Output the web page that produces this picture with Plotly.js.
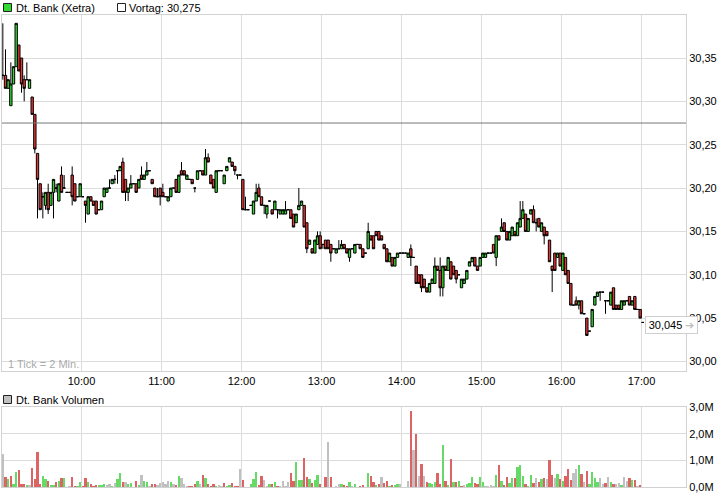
<!DOCTYPE html>
<html><head><meta charset="utf-8">
<script src="https://cdn.plot.ly/plotly-3.0.1.min.js"></script>
<style>html,body{margin:0;padding:0;background:#fff}#chart{width:726px;height:496px}</style>
</head><body><div id="chart"></div>
<script>
// ---- data (2-minute candles, Dt. Bank Xetra) ----
const sessionDate = '2013-06-04';
const firstBarMinute = 9 * 60 + 1;   // first bar centre 09:01
const barMinutes = 2;
const instrument = 'Dt. Bank (Xetra)';
const volumeLabel = 'Dt. Bank Volumen';
const tickNote = '1 Tick = 2 Min.';
const previousClose = 30.275;
const lastPrice = 30.045;
const volumeTicks = [0, 1, 2, 3];
const volumeTickText = ['0,0M', '1,0M', '2,0M', '3,0M'];

const open = [
30.330,30.330,30.315,30.295,30.320,30.340,30.365,30.350,30.325,30.325,
30.315,30.305,30.285,30.240,30.205,30.190,30.180,30.195,30.180,30.195,
30.200,30.185,30.215,30.200,30.195,30.195,30.215,30.205,30.190,30.190,
30.190,30.185,30.170,30.190,30.185,30.185,30.175,30.175,30.190,30.195,
30.200,30.205,30.210,30.220,30.220,30.230,30.210,30.195,30.200,30.205,
30.205,30.200,30.215,30.210,30.215,30.220,30.210,30.200,30.190,30.200,
30.195,30.190,30.185,30.190,30.200,30.210,30.195,30.220,30.220,30.210,
30.210,30.210,30.200,30.210,30.220,30.220,30.215,30.235,30.215,30.210,
30.195,30.220,30.220,30.205,30.220,30.230,30.230,30.225,30.215,30.215,
30.210,30.175,30.175,30.180,30.170,30.185,30.200,30.190,30.180,30.170,
30.185,30.175,30.175,30.175,30.170,30.170,30.170,30.175,30.175,30.170,
30.160,30.175,30.180,30.180,30.160,30.135,30.130,30.125,30.135,30.145,
30.135,30.140,30.140,30.135,30.130,30.125,30.130,30.130,30.135,30.130,
30.120,30.130,30.125,30.135,30.135,30.130,30.125,30.130,30.145,30.145,
30.150,30.150,30.145,30.135,30.130,30.115,30.120,30.110,30.120,30.125,
30.125,30.125,30.120,30.130,30.120,30.110,30.100,30.100,30.095,30.085,
30.080,30.090,30.090,30.110,30.105,30.085,30.110,30.105,30.115,30.110,
30.105,30.100,30.085,30.090,30.095,30.110,30.115,30.120,30.110,30.110,
30.120,30.120,30.125,30.125,30.135,30.120,30.145,30.150,30.160,30.150,
30.140,30.145,30.150,30.145,30.155,30.165,30.170,30.150,30.170,30.175,
30.160,30.165,30.150,30.155,30.150,30.140,30.110,30.125,30.120,30.125,
30.105,30.120,30.105,30.090,30.065,30.070,30.065,30.070,30.055,30.050,
30.035,30.040,30.065,30.075,30.080,30.080,30.070,30.070,30.065,30.085,
30.065,30.065,30.060,30.065,30.070,30.075,30.065,30.075,30.060,30.060,
30.045];
const high = [
30.390,30.360,30.325,30.345,30.340,30.390,30.365,30.350,30.330,30.345,
30.325,30.305,30.285,30.240,30.205,30.195,30.195,30.205,30.195,30.210,
30.205,30.205,30.225,30.215,30.195,30.195,30.225,30.205,30.190,30.205,
30.190,30.185,30.190,30.190,30.185,30.185,30.175,30.185,30.200,30.200,
30.210,30.210,30.215,30.220,30.225,30.235,30.210,30.200,30.215,30.205,
30.205,30.210,30.225,30.215,30.230,30.220,30.210,30.200,30.200,30.200,
30.205,30.190,30.190,30.200,30.200,30.210,30.215,30.230,30.220,30.215,
30.210,30.210,30.200,30.220,30.220,30.220,30.245,30.240,30.215,30.210,
30.220,30.220,30.220,30.215,30.225,30.235,30.230,30.225,30.215,30.215,
30.210,30.190,30.175,30.180,30.185,30.205,30.205,30.190,30.180,30.180,
30.185,30.175,30.185,30.175,30.175,30.175,30.185,30.175,30.175,30.170,
30.170,30.200,30.185,30.180,30.160,30.140,30.130,30.140,30.150,30.150,
30.135,30.140,30.140,30.135,30.130,30.130,30.140,30.140,30.135,30.130,
30.130,30.130,30.135,30.135,30.135,30.130,30.125,30.160,30.145,30.145,
30.150,30.150,30.145,30.135,30.130,30.125,30.120,30.120,30.125,30.125,
30.125,30.125,30.125,30.135,30.120,30.110,30.100,30.100,30.095,30.085,
30.090,30.095,30.120,30.110,30.120,30.110,30.110,30.120,30.115,30.110,
30.105,30.100,30.095,30.095,30.105,30.115,30.120,30.120,30.110,30.120,
30.125,30.125,30.125,30.125,30.135,30.145,30.145,30.165,30.160,30.150,
30.150,30.155,30.150,30.160,30.185,30.185,30.170,30.165,30.175,30.180,
30.165,30.165,30.160,30.155,30.150,30.140,30.110,30.125,30.125,30.125,
30.125,30.120,30.105,30.090,30.065,30.075,30.070,30.070,30.055,30.050,
30.035,30.060,30.075,30.080,30.080,30.080,30.070,30.070,30.080,30.085,
30.065,30.065,30.070,30.070,30.070,30.075,30.070,30.075,30.060,30.060,
30.045];
const low = [
30.325,30.315,30.315,30.295,30.320,30.340,30.335,30.310,30.300,30.325,
30.315,30.285,30.240,30.165,30.175,30.165,30.175,30.170,30.180,30.165,
30.195,30.185,30.195,30.200,30.195,30.195,30.180,30.185,30.190,30.190,
30.190,30.160,30.170,30.185,30.180,30.170,30.175,30.175,30.190,30.195,
30.200,30.205,30.205,30.205,30.220,30.195,30.185,30.185,30.200,30.205,
30.195,30.200,30.210,30.210,30.215,30.220,30.205,30.190,30.190,30.180,
30.190,30.190,30.185,30.190,30.200,30.195,30.195,30.215,30.215,30.210,
30.210,30.205,30.195,30.210,30.220,30.215,30.215,30.230,30.205,30.200,
30.195,30.220,30.220,30.205,30.220,30.230,30.225,30.215,30.210,30.215,
30.175,30.175,30.175,30.180,30.170,30.185,30.190,30.180,30.170,30.165,
30.185,30.170,30.175,30.165,30.170,30.170,30.170,30.175,30.165,30.155,
30.160,30.175,30.180,30.155,30.125,30.135,30.125,30.125,30.135,30.130,
30.130,30.130,30.130,30.115,30.130,30.125,30.130,30.130,30.130,30.125,
30.115,30.130,30.125,30.135,30.130,30.120,30.125,30.130,30.140,30.130,
30.145,30.140,30.140,30.130,30.115,30.115,30.110,30.110,30.120,30.125,
30.125,30.125,30.120,30.110,30.120,30.090,30.090,30.080,30.085,30.080,
30.080,30.090,30.090,30.105,30.075,30.075,30.105,30.105,30.095,30.100,
30.090,30.100,30.085,30.090,30.095,30.110,30.115,30.110,30.105,30.110,
30.120,30.120,30.125,30.125,30.125,30.110,30.140,30.150,30.150,30.140,
30.140,30.145,30.145,30.145,30.155,30.165,30.150,30.150,30.170,30.160,
30.150,30.155,30.150,30.135,30.145,30.115,30.080,30.105,30.120,30.110,
30.105,30.100,30.090,30.065,30.065,30.065,30.060,30.055,30.055,30.030,
30.035,30.040,30.065,30.075,30.070,30.080,30.055,30.070,30.065,30.060,
30.060,30.060,30.060,30.065,30.070,30.065,30.065,30.060,30.060,30.050,
30.045];
const close = [
30.330,30.315,30.325,30.320,30.340,30.390,30.335,30.320,30.315,30.325,
30.325,30.285,30.245,30.210,30.175,30.190,30.195,30.175,30.195,30.210,
30.200,30.205,30.195,30.200,30.195,30.195,30.190,30.185,30.190,30.205,
30.190,30.180,30.190,30.185,30.180,30.170,30.175,30.185,30.200,30.200,
30.200,30.210,30.210,30.220,30.225,30.195,30.195,30.200,30.205,30.205,
30.195,30.210,30.210,30.215,30.220,30.220,30.205,30.190,30.190,30.190,
30.190,30.190,30.190,30.200,30.200,30.195,30.215,30.215,30.215,30.215,
30.210,30.205,30.200,30.220,30.220,30.215,30.235,30.230,30.205,30.200,
30.220,30.220,30.220,30.215,30.225,30.235,30.225,30.220,30.215,30.215,
30.175,30.175,30.175,30.180,30.185,30.195,30.190,30.180,30.180,30.180,
30.185,30.170,30.185,30.175,30.175,30.175,30.175,30.175,30.165,30.155,
30.170,30.180,30.185,30.155,30.130,30.140,30.125,30.140,30.145,30.130,
30.135,30.130,30.130,30.125,30.130,30.130,30.130,30.135,30.130,30.125,
30.130,30.130,30.135,30.135,30.130,30.120,30.125,30.150,30.140,30.130,
30.145,30.140,30.140,30.130,30.115,30.125,30.110,30.120,30.125,30.125,
30.125,30.125,30.125,30.120,30.120,30.090,30.090,30.085,30.085,30.080,
30.090,30.095,30.110,30.105,30.085,30.110,30.105,30.120,30.095,30.100,
30.095,30.100,30.095,30.095,30.105,30.115,30.120,30.110,30.105,30.120,
30.125,30.125,30.125,30.125,30.125,30.145,30.140,30.155,30.150,30.140,
30.150,30.155,30.145,30.160,30.165,30.175,30.150,30.165,30.175,30.160,
30.160,30.155,30.160,30.145,30.145,30.115,30.105,30.105,30.125,30.110,
30.125,30.100,30.090,30.065,30.065,30.065,30.070,30.055,30.055,30.030,
30.035,30.060,30.075,30.080,30.080,30.080,30.070,30.070,30.080,30.060,
30.060,30.060,30.070,30.070,30.070,30.065,30.070,30.060,30.060,30.050,
30.045];
// volume in millions of shares
const volume = [
1.25,0.40,0.31,0.42,0.12,0.57,0.65,0.12,0.12,0.10,
0.10,0.72,0.31,1.32,0.12,0.42,0.31,0.24,0.10,0.10,
0.21,0.24,0.35,0.35,0.02,0.06,0.40,0.06,0.06,0.20,
0.06,0.35,0.20,0.12,0.06,0.10,0.09,0.09,0.12,0.10,
0.12,0.06,0.16,0.30,0.54,0.18,0.20,0.12,0.16,0.03,
0.25,0.09,0.46,0.24,0.20,0.06,0.12,0.12,0.09,0.16,
0.20,0.12,0.24,0.20,0.12,0.09,0.42,0.35,0.12,0.06,
0.06,0.06,0.12,0.24,0.12,0.46,0.36,0.12,0.06,0.12,
0.06,0.09,0.06,0.16,0.06,0.10,0.16,0.06,0.06,0.70,
0.27,0.02,0.02,0.12,0.31,0.57,0.09,0.42,0.27,0.05,
0.12,0.12,0.20,0.05,0.05,0.24,0.05,0.20,0.54,0.24,
0.95,0.27,0.27,1.10,0.39,0.31,0.16,0.27,0.46,0.12,
0.02,0.39,1.70,0.39,0.02,0.05,0.12,0.12,0.09,0.05,
0.20,0.05,0.12,0.02,0.05,0.09,0.02,0.54,0.42,0.20,
0.09,0.12,0.39,0.16,0.24,0.05,0.09,0.09,0.12,0.12,
0.02,0.02,0.24,2.86,1.40,2.00,0.42,0.87,0.42,0.20,
0.16,0.12,0.20,0.54,0.12,1.59,0.24,0.09,1.06,0.20,
0.20,0.24,0.05,0.09,0.12,0.16,0.39,0.15,0.12,0.39,
0.20,0.05,0.04,0.08,0.04,0.46,0.84,0.24,0.09,0.39,
0.16,0.35,0.35,0.76,0.84,0.42,0.12,0.05,0.46,0.16,
0.35,0.20,0.31,0.35,0.31,1.02,0.46,0.35,0.50,0.31,
0.24,0.42,0.69,0.27,0.54,0.69,0.84,0.50,0.20,0.61,
0.12,0.57,0.35,0.20,0.35,0.12,0.15,0.39,0.20,0.12,
0.12,0.15,0.09,0.39,0.24,0.35,0.27,0.27,0.04,0.08,
0.02];

// ---- helpers ----
function stamp(totalMin) {
  const h = Math.floor(totalMin / 60), m = totalMin % 60;
  return sessionDate + ' ' + String(h).padStart(2, '0') + ':' + String(m).padStart(2, '0');
}
const times = close.map((_, i) => stamp(firstBarMinute + i * barMinutes));
const deNum = (v, d) => v.toFixed(d).replace('.', ',');

const UP = '#30da30', DOWN = '#e83535';
const VUP = '#66d966', VDOWN = '#dc6464', VFLAT = '#c0c0c0';
const volColors = close.map((c, i) => i === 0 ? VFLAT : (c > close[i - 1] ? VUP : (c < close[i - 1] ? VDOWN : VFLAT)));

const W = 726, H = 496;
const px = x => x / W;
const py = y => 1 - y / H;
const GRID = '#dcdcdc', FRAME = '#d2d2d2';
const xRange = [sessionDate + ' 09:00:22', sessionDate + ' 17:33:22'];

const candles = {
  type: 'candlestick', x: times, open: open, high: high, low: low, close: close,
  xaxis: 'x', yaxis: 'y', hoverinfo: 'skip', whiskerwidth: 0,
  increasing: {fillcolor: UP, line: {color: '#000', width: 1}},
  decreasing: {fillcolor: DOWN, line: {color: '#000', width: 1}}
};
const vols = {
  type: 'bar', x: times, y: volume, xaxis: 'x2', yaxis: 'y2',
  marker: {color: volColors, line: {width: 0}}, width: 92000, hoverinfo: 'skip'
};

const axBase = {
  showgrid: true, gridcolor: GRID, gridwidth: 1, showline: true, linecolor: FRAME,
  linewidth: 1, mirror: true, ticks: '', zeroline: false, fixedrange: true
};
const font = {family: 'Liberation Sans, Arial, sans-serif', size: 11, color: '#000'};

const layout = {
  width: W, height: H, margin: {l: 0, r: 0, t: 0, b: 0},
  paper_bgcolor: '#fff', plot_bgcolor: '#fff', separators: ',.', font: font,
  showlegend: false, boxgap: 0.12, boxgroupgap: 0, bargap: 0,
  xaxis: Object.assign({}, axBase, {
    domain: [px(2), px(686)], range: xRange, type: 'date', anchor: 'y',
    tickformat: '%H:%M', dtick: 3600000, tick0: sessionDate + ' 10:00',
    rangeslider: {visible: false}
  }),
  yaxis: Object.assign({}, axBase, {
    domain: [py(371), py(15)], range: [29.989, 30.3996], side: 'right', anchor: 'x',
    tickformat: '.2f', dtick: 0.05, tick0: 30
  }),
  xaxis2: Object.assign({}, axBase, {
    domain: [px(2), px(686)], range: xRange, type: 'date', anchor: 'y2',
    dtick: 3600000, tick0: sessionDate + ' 10:00', showticklabels: false,
    rangeslider: {visible: false}
  }),
  yaxis2: Object.assign({}, axBase, {
    domain: [py(487.3), py(407)], range: [0, 3], side: 'right', anchor: 'x2',
    tickmode: 'array', tickvals: volumeTicks, ticktext: volumeTickText
  }),
  shapes: [
    {type: 'line', xref: 'x', yref: 'y', x0: xRange[0], x1: xRange[1], y0: previousClose, y1: previousClose,
     line: {color: '#777', width: 1}},
    {type: 'rect', xref: 'paper', yref: 'paper', x0: px(3.5), x1: px(11.5), y0: py(11.5), y1: py(3.5),
     fillcolor: UP, line: {color: '#222', width: 1}},
    {type: 'rect', xref: 'paper', yref: 'paper', x0: px(117.5), x1: px(125.5), y0: py(11.5), y1: py(3.5),
     fillcolor: '#fff', line: {color: '#222', width: 1}},
    {type: 'rect', xref: 'paper', yref: 'paper', x0: px(3.5), x1: px(11.5), y0: py(403.5), y1: py(395.5),
     fillcolor: VFLAT, line: {color: '#222', width: 1}}
  ],
  annotations: [
    {xref: 'paper', yref: 'paper', x: px(14), y: py(8), xanchor: 'left', yanchor: 'middle',
     text: instrument, showarrow: false, font: font},
    {xref: 'paper', yref: 'paper', x: px(127), y: py(8), xanchor: 'left', yanchor: 'middle',
     text: 'Vortag: ' + deNum(previousClose, 3), showarrow: false, font: font},
    {xref: 'paper', yref: 'paper', x: px(14), y: py(400), xanchor: 'left', yanchor: 'middle',
     text: volumeLabel, showarrow: false, font: font},
    {xref: 'paper', yref: 'paper', x: px(6), y: py(364), xanchor: 'left', yanchor: 'middle',
     text: tickNote, showarrow: false, font: {family: font.family, size: 11, color: '#aaa'}},
    {xref: 'paper', yref: 'y', x: px(671), y: lastPrice, yshift: -3, xanchor: 'center', yanchor: 'middle',
     text: deNum(lastPrice, 3) + ' <span style="color:#bdbdbd">➔</span>', showarrow: false,
     width: 47, align: 'center',
     bgcolor: '#fff', bordercolor: '#cfcfcf', borderwidth: 1, borderpad: 2, font: font}
  ]
};

Plotly.newPlot('chart', [candles, vols], layout, {staticPlot: true, displayModeBar: false});
</script>
</body></html>
